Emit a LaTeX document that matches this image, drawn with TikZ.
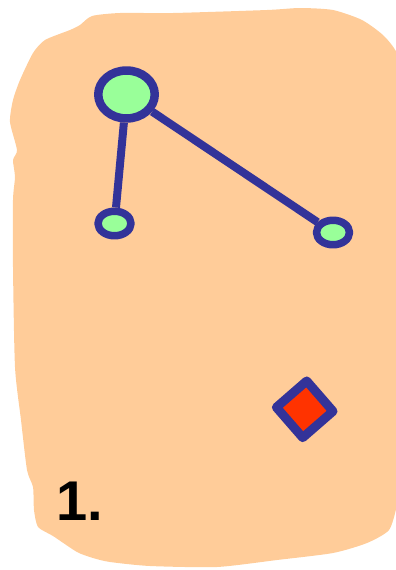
\documentclass[tikz,border=0pt]{standalone}
\usepackage{fontspec}
\setmainfont{Liberation Sans}
\usetikzlibrary{shapes.geometric}

\definecolor{blobfill}{HTML}{FFCC99}
\definecolor{edgeblue}{HTML}{333399}
\definecolor{nodegreen}{HTML}{99FF99}
\definecolor{markred}{HTML}{FF3300}

\begin{document}
\begin{tikzpicture}[x=1pt,y=-1pt,line join=round,
  vertex/.style={ellipse,draw=edgeblue,fill=nodegreen,inner sep=0pt},
  hub/.style={vertex,minimum width=56.5pt,minimum height=48pt,line width=8.5pt},
  leaf/.style={vertex,minimum width=33pt,minimum height=24.5pt,line width=7.5pt},
  link/.style={draw=edgeblue,line width=8pt},
  marker/.style={diamond,draw=edgeblue,fill=markred,line width=9pt,inner sep=0pt,
    minimum width=60.5pt,minimum height=60.5pt}]

\useasboundingbox (0,0) rectangle (396,570);
\clip (0,0) rectangle (396,570);

% background blob
\fill[blobfill] plot[smooth cycle,tension=0.4] coordinates {
  (92,16) (120,13) (173,13) (267,10) (300,8) (333,10) (362,20) (384,36)
  (398,56) (403,100) (403,470) (397,505) (389,530) (367,543) (333,553)
  (277,560) (217,567) (150,566) (110,562) (93,558) (77,552) (53,536) (38,527)
  (34,510) (33,487) (27,470) (21,420) (15,367) (13,267) (13,200) (15,177)
  (13,160) (17,150) (10,122) (13,100) (20,80) (33,53) (45,40) (70,30) (80,25)};

% nodes
\node[hub] (top) at (126.5,94.5) {};
\node[leaf] (left) at (114.5,223.5) {};
\node[leaf] (right) at (333,232.5) {};

% edges
\draw[link] (top) -- (left);
\draw[link] (top) -- (right);

% marker
\node[marker,rotate=-4] (mark) at (304.7,409.3) {};

% label
\node[anchor=base west,inner sep=0pt,font=\bfseries\fontsize{56}{56}\selectfont]
  (num) at (56,520) {1.};

\end{tikzpicture}
\end{document}
